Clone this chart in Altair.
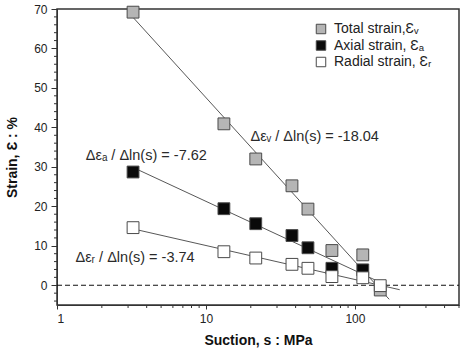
import altair as alt
import numpy as np
import pandas as pd

# Measured strains against suction (MPa)
suction_total = [3.24, 13.2, 21.6, 37.8, 48.4, 70.1, 113, 148]
strain_total = [69.2, 40.9, 32.0, 25.2, 19.3, 8.8, 7.7, -1.2]
suction_axial = [3.24, 13.2, 21.6, 37.8, 48.4, 70.1, 113]
strain_axial = [28.7, 19.4, 15.6, 12.6, 9.5, 4.3, 3.9]
suction_radial = [3.24, 13.2, 21.6, 37.8, 48.4, 70.1, 113, 148]
strain_radial = [14.6, 8.5, 6.9, 5.3, 4.3, 2.2, 1.9, -0.1]

series = ["Total strain,Ɛᵥ", "Axial strain, Ɛₐ", "Radial strain, Ɛᵣ"]
fills = ["#b5b5b5", "#0a0a0a", "#ffffff"]

# Slopes of strain against ln(suction) and the suction where each fit stops
slopes = [-18.04, -7.62, -3.74]
fit_end = [170, 165, 200]

# Slope labels and where they sit (suction, strain)
slope_labels = ["Δεᵥ / Δln(s) = -18.04", "Δεₐ / Δln(s) = -7.62", "Δεᵣ / Δln(s) = -3.74"]
label_s = [19.9, 1.56, 1.33]
label_e = [37.6, 32.8, 7.0]

major_x = [1, 10, 100]
minor_x = [2, 3, 4, 5, 6, 7, 8, 9, 20, 30, 40, 50, 60, 70, 80, 90, 200, 300, 400, 500]
major_y = [0, 10, 20, 30, 40, 50, 60, 70]
minor_y = [v for v in range(-4, 70, 2) if v % 10 != 0]

FONT = "Liberation Sans"
W, H = 402, 296

pts = pd.concat([
    pd.DataFrame({"s": suction_total, "e": strain_total, "series": series[0]}),
    pd.DataFrame({"s": suction_axial, "e": strain_axial, "series": series[1]}),
    pd.DataFrame({"s": suction_radial, "e": strain_radial, "series": series[2]}),
], ignore_index=True)

# Fit lines with the stated slope, intercept through the data centroid in (ln s, strain)
rows = []
for name, k, s_end in zip(series, slopes, fit_end):
    sub = pts[pts.series == name]
    a = sub.e.mean() - k * np.log(sub.s).mean()
    for s in (sub.s.min(), s_end):
        rows.append({"s": s, "e": a + k * np.log(s), "series": name})
fits = pd.DataFrame(rows)

labels = pd.DataFrame({"s": label_s, "e": label_e, "text": slope_labels})

xscale = alt.Scale(type="log", domain=[1, 500], nice=False)
yscale = alt.Scale(domain=[-5, 70], nice=False, zero=False)

x_axis = alt.Axis(
    values=major_x, format="d", grid=False, tickSize=4,
    labelPadding=4, labelFontSize=12, labelFont=FONT, labelColor="#222",
    title="Suction, s : MPa", titleFont=FONT, titleFontSize=14, titleFontWeight="bold",
    titleColor="#111", titlePadding=9, domainColor="#333", tickColor="#333",
)
y_axis = alt.Axis(
    values=major_y, grid=False, tickSize=6,
    labelPadding=4, labelFontSize=12, labelFont=FONT, labelColor="#222",
    title="Strain, Ɛ : %", titleFont=FONT, titleFontSize=14, titleFontWeight="bold",
    titleColor="#111", titlePadding=14, domainColor="#333", tickColor="#333",
)

# Short unlabelled minor ticks along the two axes
x_minor = alt.Chart(pd.DataFrame({"s": minor_x})).mark_rule(color="#333", strokeWidth=1).encode(
    x=alt.X("s:Q", scale=xscale),
    y=alt.value(H), y2=alt.value(H + 3),
)
y_minor = alt.Chart(pd.DataFrame({"e": minor_y})).mark_rule(color="#333", strokeWidth=1).encode(
    y=alt.Y("e:Q", scale=yscale),
    x=alt.value(-3), x2=alt.value(0),
)

zero_line = alt.Chart(pd.DataFrame({"e": [0]})).mark_rule(
    color="#111", strokeDash=[5, 3], strokeWidth=1.2
).encode(
    x=alt.value(0), x2=alt.value(W),
    y=alt.Y("e:Q", scale=yscale),
)

fit_lines = alt.Chart(fits).mark_line(color="#444", strokeWidth=0.9).encode(
    x=alt.X("s:Q", scale=xscale, axis=x_axis),
    y=alt.Y("e:Q", scale=yscale, axis=y_axis),
    detail="series:N",
)

markers = alt.Chart(pts).mark_square(size=140, stroke="#4a4a4a", strokeWidth=1,
                                      opacity=1).encode(
    x=alt.X("s:Q", scale=xscale),
    y=alt.Y("e:Q", scale=yscale),
    fill=alt.Fill("series:N", scale=alt.Scale(domain=series, range=fills),
                  legend=alt.Legend(title=None, orient="none", legendX=257, legendY=13,
                                    symbolType="square", symbolSize=90,
                                    symbolStrokeColor="#4a4a4a", symbolStrokeWidth=1,
                                    labelFont=FONT, labelFontSize=14, labelColor="#222",
                                    rowPadding=2.5, padding=0, labelOffset=6)),
)

texts = alt.Chart(labels).mark_text(align="left", baseline="middle", font=FONT,
                                    fontSize=14.5, color="#2a2a2a").encode(
    x=alt.X("s:Q", scale=xscale),
    y=alt.Y("e:Q", scale=yscale),
    text="text:N",
)

chart = alt.layer(fit_lines, x_minor, y_minor, zero_line, markers, texts).properties(
    width=W, height=H,
    autosize=alt.AutoSizeParams(type="none"),
    padding={"left": 57, "top": 9, "right": 3, "bottom": 51},
    background="white",
).configure_view(stroke="#333", strokeWidth=1.5)

chart.save("out.html", embed_options={"renderer": "svg", "actions": False})
